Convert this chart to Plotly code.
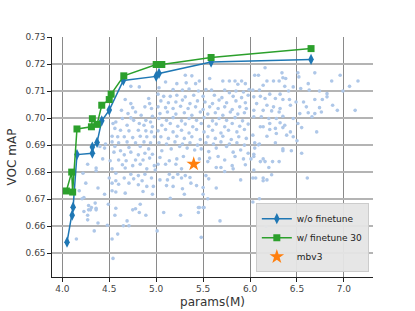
import plotly.graph_objects as go

# ---- data ----
wo_x = [4.05, 4.105, 4.115, 4.156, 4.32, 4.32, 4.37, 4.42, 4.50, 4.65, 5.0, 5.03, 5.585, 6.65]
wo_y = [0.654, 0.664, 0.667, 0.6865, 0.687, 0.6893, 0.691, 0.699, 0.703, 0.714, 0.7155, 0.7166, 0.7208, 0.7218]

ft_x = [4.043, 4.10, 4.11, 4.156, 4.31, 4.32, 4.37, 4.42, 4.50, 4.52, 4.655, 5.0, 5.06, 5.585, 6.65]
ft_y = [0.673, 0.680, 0.6726, 0.696, 0.6968, 0.6998, 0.6977, 0.7048, 0.7069, 0.7089, 0.7157, 0.7199, 0.7199, 0.7225, 0.7258]

mbv3_x = [5.40]
mbv3_y = [0.683]

cloud_x = [
    # x 4-5, y > 0.69
    4.73, 4.82, 4.67, 4.92, 4.93, 4.95, 4.88, 4.73, 4.75, 4.63, 4.70, 4.78, 4.84, 4.96, 4.64, 4.73,
    4.76, 4.89, 4.94, 4.54, 4.57, 4.69, 4.82, 4.87, 4.96, 4.56, 4.62, 4.71, 4.81, 4.89, 4.95, 4.53,
    4.59, 4.66, 4.75, 4.83, 4.90, 4.98, 4.53, 4.60, 4.69, 4.78, 4.87, 4.94, 4.46,
    # x 5-6, y > 0.69
    5.31, 5.38, 5.46, 5.57, 5.71, 5.78, 5.84, 5.91, 5.10, 5.22, 5.32, 5.42, 5.87, 5.95,
    5.03, 5.18, 5.28, 5.35, 5.45, 5.53, 5.59, 5.73, 5.78, 5.85, 5.93, 5.99,
    5.02, 5.08, 5.15, 5.22, 5.31, 5.40, 5.50, 5.62, 5.70, 5.82, 5.91, 5.98,
    5.05, 5.13, 5.21, 5.28, 5.36, 5.44, 5.52, 5.60, 5.67, 5.75, 5.85, 5.95,
    5.02, 5.10, 5.18, 5.26, 5.34, 5.42, 5.50, 5.57, 5.66, 5.73, 5.81, 5.89, 5.96,
    5.04, 5.12, 5.21, 5.30, 5.38, 5.47, 5.55, 5.63, 5.71, 5.79, 5.87, 5.94,
    5.03, 5.11, 5.18, 5.27, 5.35, 5.43, 5.51, 5.60, 5.67, 5.75, 5.84, 5.92,
    5.06, 5.15, 5.23, 5.31, 5.39, 5.48, 5.56, 5.64, 5.73, 5.81, 5.89, 5.98,
    5.02, 5.10, 5.18, 5.27, 5.35, 5.43, 5.51, 5.60, 5.69, 5.77, 5.86, 5.94,
    5.05, 5.13, 5.22, 5.30, 5.38, 5.47, 5.55, 5.63, 5.71, 5.80, 5.88, 5.96,
    5.03, 5.11, 5.20, 5.28, 5.36, 5.44, 5.53, 5.61, 5.69, 5.78, 5.86, 5.94,
    # x 6-7.2, y > 0.69
    6.16, 6.69, 6.96, 6.51, 7.15, 7.06, 6.05, 6.09, 6.34, 6.35, 6.38, 6.18, 6.25, 6.31, 6.52, 6.62,
    6.87, 6.14, 6.37, 6.46, 6.54, 6.63, 6.74, 6.82, 6.99, 6.03, 6.10, 6.41, 6.21, 6.32, 6.11, 6.04,
    6.16, 6.27, 6.35, 6.42, 6.49, 6.57, 6.69, 6.77, 6.82, 6.88, 6.93, 7.12, 6.07, 6.18, 6.25, 6.32,
    6.43, 6.60, 6.74, 6.04, 6.14, 6.23, 6.31, 6.53, 6.62, 6.69, 6.76, 6.04, 6.12, 6.20, 6.28, 6.35,
    6.46, 6.66, 6.21, 6.32, 6.37, 6.51, 6.14, 6.27, 6.35, 6.55, 6.71, 6.11, 6.21, 6.43, 6.46, 6.18,
    6.28, 6.03, 6.39, 6.05, 6.10, 6.27, 6.50,
    # x 4-5, 0.665-0.69
    4.40, 4.45, 4.56, 4.62, 4.71, 4.83, 4.92, 4.55, 4.66, 4.73, 4.81, 4.88, 4.96, 4.43, 4.51, 4.60,
    4.68, 4.78, 4.86, 4.93, 4.64, 4.75, 4.83, 4.98, 4.53, 4.67, 4.90, 4.99, 4.36, 4.57, 4.73, 4.81,
    4.88, 4.95, 4.22, 4.50, 4.57, 4.66, 4.76, 4.85, 4.38, 4.53, 4.60, 4.71, 4.81, 4.90, 4.45, 4.53,
    4.57, 4.67, 4.86, 4.96, 4.97, 4.18, 4.23, 4.25, 4.21, 4.35, 4.28, 4.36, 4.49, 4.57, 4.78, 4.83,
    4.23, 4.30, 4.27, 4.36,
    # x 5-6, 0.665-0.69
    5.06, 5.16, 5.25, 5.33, 5.41, 5.48, 5.56, 5.64, 5.75, 5.82, 5.90, 5.98, 5.04, 5.14, 5.22, 5.29,
    5.46, 5.57, 5.66, 5.73, 5.84, 5.93, 5.02, 5.10, 5.21, 5.27, 5.55, 5.64, 5.69, 5.81, 5.82, 5.95,
    5.14, 5.18, 5.23, 5.31, 5.36, 5.04, 5.12, 5.27, 5.53, 5.56, 5.73, 5.90, 5.37, 5.43, 5.11, 5.18,
    5.50, 5.28, 5.64, 5.30, 5.50, 5.55, 5.15, 5.46, 5.50,
    # x 6-7, 0.665-0.69
    6.05, 6.09, 6.35, 6.35, 6.44, 6.55, 6.04, 6.04, 6.01, 6.14, 6.16, 6.11, 6.24, 6.31, 6.20, 6.04,
    6.23, 6.03, 6.06, 6.14, 6.14, 6.18, 6.61, 6.10, 6.03,
    # lower part, y < 0.667
    4.28, 4.36, 4.31, 4.27, 4.27, 4.38, 4.48, 4.56, 4.69, 4.71, 4.65, 4.75, 4.82, 4.89, 5.08, 5.26,
    5.45, 5.51, 5.45, 5.68, 4.34, 4.59, 4.53, 5.01, 5.48, 6.17, 4.15, 4.54,
]
cloud_y = [
    # x 4-5, y > 0.69
    0.7118, 0.7116, 0.7069, 0.7073, 0.7054, 0.7036, 0.7042, 0.7054, 0.7039, 0.7029, 0.7017, 0.7023, 0.7011, 0.7007, 0.6999, 0.7001,
    0.6992, 0.6992, 0.6986, 0.6980, 0.6986, 0.6974, 0.6980, 0.6974, 0.6968, 0.6962, 0.6955, 0.6953, 0.6955, 0.6953, 0.6949, 0.6933,
    0.6931, 0.6931, 0.6928, 0.6933, 0.6931, 0.6931, 0.6912, 0.6909, 0.6912, 0.6909, 0.6912, 0.6909, 0.6904,
    # x 5-6, y > 0.69
    0.7159, 0.7157, 0.7138, 0.7147, 0.7138, 0.7138, 0.7138, 0.7138, 0.7134, 0.7128, 0.7131, 0.7128, 0.7126, 0.7128,
    0.7113, 0.7106, 0.7104, 0.7108, 0.7101, 0.7106, 0.7104, 0.7104, 0.7094, 0.7101, 0.7097, 0.7106,
    0.7089, 0.7081, 0.7081, 0.7085, 0.7079, 0.7085, 0.7081, 0.7085, 0.7076, 0.7081, 0.7076, 0.7085,
    0.7064, 0.7057, 0.7060, 0.7067, 0.7054, 0.7064, 0.7060, 0.7054, 0.7067, 0.7057, 0.7064, 0.7057,
    0.7042, 0.7039, 0.7036, 0.7044, 0.7036, 0.7042, 0.7032, 0.7042, 0.7036, 0.7042, 0.7032, 0.7042, 0.7036,
    0.7017, 0.7023, 0.7015, 0.7020, 0.7011, 0.7023, 0.7015, 0.7020, 0.7011, 0.7023, 0.7015, 0.7020,
    0.6999, 0.6992, 0.7002, 0.6990, 0.6999, 0.6992, 0.7002, 0.6990, 0.6999, 0.6992, 0.7002, 0.6990,
    0.6974, 0.6980, 0.6970, 0.6978, 0.6968, 0.6980, 0.6970, 0.6978, 0.6968, 0.6980, 0.6970, 0.6978,
    0.6953, 0.6958, 0.6949, 0.6955, 0.6945, 0.6958, 0.6949, 0.6955, 0.6945, 0.6955, 0.6949, 0.6958,
    0.6931, 0.6925, 0.6933, 0.6925, 0.6931, 0.6921, 0.6931, 0.6925, 0.6933, 0.6921, 0.6931, 0.6925,
    0.6909, 0.6904, 0.6912, 0.6904, 0.6909, 0.6900, 0.6909, 0.6904, 0.6912, 0.6904, 0.6909, 0.6900,
    # x 6-7.2, y > 0.69
    0.7187, 0.7168, 0.7159, 0.7168, 0.7138, 0.7118, 0.7159, 0.7159, 0.7168, 0.7150, 0.7147, 0.7138, 0.7138, 0.7138, 0.7153, 0.7128,
    0.7138, 0.7122, 0.7118, 0.7116, 0.7110, 0.7104, 0.7101, 0.7091, 0.7101, 0.7104, 0.7104, 0.7101, 0.7089, 0.7089, 0.7081, 0.7079,
    0.7073, 0.7073, 0.7069, 0.7069, 0.7060, 0.7060, 0.7069, 0.7069, 0.7079, 0.7048, 0.7029, 0.7029, 0.7054, 0.7048, 0.7042, 0.7036,
    0.7048, 0.7042, 0.7039, 0.7029, 0.7029, 0.7027, 0.7023, 0.7017, 0.7020, 0.7017, 0.7023, 0.7005, 0.7005, 0.6999, 0.6999, 0.7007,
    0.6999, 0.7005, 0.6980, 0.6983, 0.6974, 0.6980, 0.6968, 0.6962, 0.6965, 0.6965, 0.6949, 0.6968, 0.6958, 0.6949, 0.6931, 0.6933,
    0.6943, 0.6937, 0.6937, 0.6909, 0.6904, 0.6909, 0.6916,
    # x 4-5, 0.665-0.69
    0.6895, 0.6889, 0.6895, 0.6879, 0.6891, 0.6895, 0.6886, 0.6874, 0.6864, 0.6874, 0.6864, 0.6870, 0.6866, 0.6849, 0.6842, 0.6845,
    0.6842, 0.6845, 0.6845, 0.6852, 0.6827, 0.6824, 0.6829, 0.6824, 0.6812, 0.6815, 0.6812, 0.6808, 0.6805, 0.6796, 0.6792, 0.6787,
    0.6792, 0.6778, 0.6796, 0.6778, 0.6768, 0.6778, 0.6775, 0.6768, 0.6741, 0.6759, 0.6755, 0.6759, 0.6753, 0.6747, 0.6718, 0.6731,
    0.6726, 0.6722, 0.6728, 0.6718, 0.6747, 0.6731, 0.6706, 0.6759, 0.6701, 0.6685, 0.6676, 0.6666, 0.6681, 0.6666, 0.6664, 0.6681,
    0.6654, 0.6660, 0.6829, 0.6815,
    # x 5-6, 0.665-0.69
    0.6879, 0.6886, 0.6895, 0.6889, 0.6882, 0.6886, 0.6876, 0.6889, 0.6895, 0.6874, 0.6882, 0.6870, 0.6854, 0.6842, 0.6849, 0.6858,
    0.6849, 0.6852, 0.6858, 0.6845, 0.6858, 0.6849, 0.6829, 0.6829, 0.6829, 0.6812, 0.6839, 0.6817, 0.6817, 0.6824, 0.6812, 0.6827,
    0.6792, 0.6780, 0.6792, 0.6787, 0.6780, 0.6771, 0.6771, 0.6778, 0.6787, 0.6775, 0.6802, 0.6771, 0.6759, 0.6750, 0.6750, 0.6747,
    0.6743, 0.6738, 0.6741, 0.6718, 0.6718, 0.6701, 0.6703, 0.6669, 0.6669,
    # x 6-7, 0.665-0.69
    0.6889, 0.6901, 0.6886, 0.6879, 0.6879, 0.6870, 0.6866, 0.6858, 0.6849, 0.6849, 0.6839, 0.6839, 0.6839, 0.6839, 0.6817, 0.6808,
    0.6790, 0.6778, 0.6778, 0.6778, 0.6768, 0.6771, 0.6778, 0.6701, 0.6689,
    # lower part, y < 0.667
    0.6660, 0.6660, 0.6669, 0.6640, 0.6623, 0.6611, 0.6603, 0.6640, 0.6619, 0.6601, 0.6601, 0.6660, 0.6650, 0.6640, 0.6650, 0.6640,
    0.6669, 0.6669, 0.6650, 0.6619, 0.6582, 0.6570, 0.6552, 0.6582, 0.6558, 0.6598, 0.6552, 0.6480,
]

x_tick_vals = [4.0, 4.5, 5.0, 5.5, 6.0, 6.5, 7.0]
y_tick_vals = [0.65, 0.66, 0.67, 0.68, 0.69, 0.70, 0.71, 0.72, 0.73]

FONT = "DejaVu Sans"

fig = go.Figure()
fig.add_trace(go.Scatter(
    x=cloud_x, y=cloud_y, mode="markers", showlegend=False, hoverinfo="skip",
    marker=dict(color="#aec7e8", size=3.6, line=dict(width=0)),
))
fig.add_trace(go.Scatter(
    x=wo_x, y=wo_y, mode="lines+markers", name="w/o finetune",
    line=dict(color="#1f77b4", width=1.5),
    marker=dict(symbol="diamond-tall", color="#1f77b4", size=8),
))
fig.add_trace(go.Scatter(
    x=ft_x, y=ft_y, mode="lines+markers", name="w/ finetune 30",
    line=dict(color="#2ca02c", width=1.5),
    marker=dict(symbol="square", color="#2ca02c", size=7),
))
fig.add_trace(go.Scatter(
    x=mbv3_x, y=mbv3_y, mode="markers", name="mbv3",
    marker=dict(symbol="star", color="#ff7f0e", size=11, line=dict(width=0)),
))

fig.update_layout(
    width=415, height=311, autosize=False,
    margin=dict(l=52, r=42, t=37, b=34),
    paper_bgcolor="white", plot_bgcolor="white",
    font=dict(family=FONT, size=9, color="#444444"),
    legend=dict(
        x=0.987, y=0.02, xanchor="right", yanchor="bottom",
        bgcolor="rgba(229,229,229,0.95)", bordercolor="#cccccc", borderwidth=1,
        font=dict(family=FONT, size=9, color="#222222"),
        tracegroupgap=0, itemwidth=30,
    ),
)
fig.update_xaxes(
    range=[3.89, 7.31], tickvals=x_tick_vals, tickformat=".1f", automargin=False,
    showgrid=True, gridcolor="#8a8a8a", gridwidth=1.2,
    showline=True, linecolor="#222222", linewidth=1.2, mirror=False,
    ticks="outside", ticklen=3.5, tickcolor="#222222", zeroline=False,
    tickfont=dict(family=FONT, size=9, color="#444444"),
    title=dict(text="params(M)", font=dict(family=FONT, size=12, color="#333333"), standoff=4),
)
fig.update_yaxes(
    range=[0.6411, 0.7301], tickvals=y_tick_vals, tickformat=".2f", automargin=False,
    showgrid=True, gridcolor="#b4b4b4", gridwidth=1.5,
    showline=True, linecolor="#222222", linewidth=1.2, mirror=False,
    ticks="outside", ticklen=3.5, tickcolor="#222222", zeroline=False,
    tickfont=dict(family=FONT, size=9, color="#444444"),
    title=dict(text="VOC mAP", font=dict(family=FONT, size=12, color="#333333"), standoff=6),
)

fig.write_html(
    "out.html",
    config={"displayModeBar": False},
    post_script="document.body.style.margin='0px';document.body.style.padding='0px';",
)
